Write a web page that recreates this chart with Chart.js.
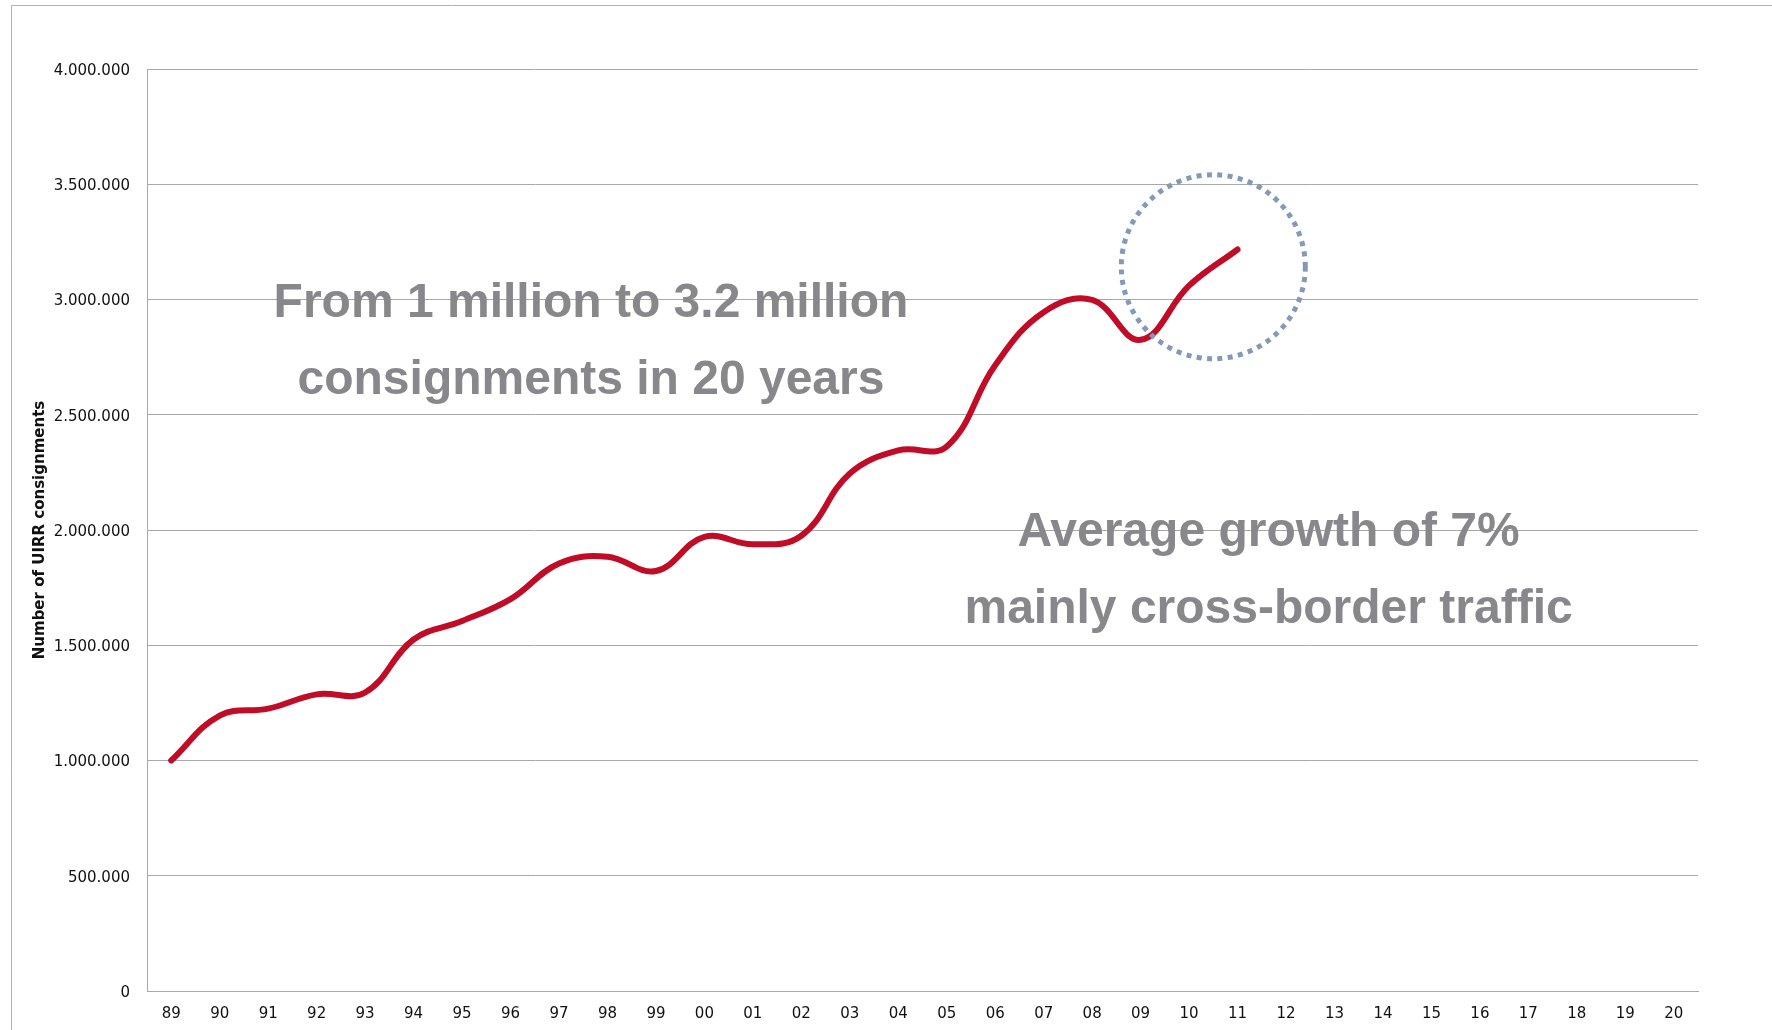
<!DOCTYPE html>
<html>
<head>
<meta charset="utf-8">
<title>UIRR consignments</title>
<script src="https://cdn.jsdelivr.net/npm/chart.js@4.4.1/dist/chart.umd.min.js"></script>
<style>
  html, body { margin: 0; padding: 0; background: #fff; }
</style>
</head>
<body>
<canvas id="consignmentChart" width="1772" height="1030"></canvas>
<script>
// years on the x axis (two-digit)
const years = ['89', '90', '91', '92', '93', '94', '95', '96', '97', '98', '99',
               '00', '01', '02', '03', '04', '05', '06', '07', '08', '09', '10',
               '11', '12', '13', '14', '15', '16', '17', '18', '19', '20'];

// number of UIRR consignments per year, 1989 - 2011
const consignments = [1000000, 1195000, 1225000, 1287000, 1295000, 1525000, 1605000,
                      1700000, 1855000, 1884000, 1822000, 1970000, 1938000, 1975000,
                      2245000, 2345000, 2362000, 2715000, 2945000, 2998000, 2825000,
                      3060000, 3217000];

const yMax = 4000000;
const yStep = 500000;

// callout texts
const noteLeft = ['From 1 million to 3.2 million', 'consignments in 20 years'];
const noteRight = ['Average growth of 7%', 'mainly cross-border traffic'];

function dotted(n) {
    return String(n).replace(/\B(?=(\d{3})+(?!\d))/g, '.');
}

const tickFont = { family: 'DejaVu Sans', size: 15 };
const gridGrey = '#a8a8a8';

// frame lines, the dotted circle and the two callouts
const decorations = {
    id: 'decorations',
    beforeDraw(chart) {
        const ctx = chart.ctx;
        ctx.save();
        ctx.fillStyle = '#fff';
        ctx.fillRect(0, 0, chart.width, chart.height);
        ctx.strokeStyle = '#b0b0b0';
        ctx.lineWidth = 1;
        ctx.beginPath();
        ctx.moveTo(11.5, chart.height);
        ctx.lineTo(11.5, 5.5);
        ctx.lineTo(chart.width, 5.5);
        ctx.stroke();
        ctx.restore();
    },
    afterDraw(chart) {
        const ctx = chart.ctx;
        const x = chart.scales.x;
        const y = chart.scales.y;
        ctx.save();

        // circle around the last two years
        ctx.strokeStyle = '#8399ba';
        ctx.lineWidth = 5;
        ctx.setLineDash([5, 5.4]);
        ctx.beginPath();
        ctx.arc(x.getPixelForValue(21.5), y.getPixelForValue(3142000), 92, 0, Math.PI * 2);
        ctx.stroke();
        ctx.setLineDash([]);

        ctx.fillStyle = '#87878c';
        ctx.font = 'bold 48px "Liberation Sans", Arial, sans-serif';
        ctx.textAlign = 'center';
        ctx.textBaseline = 'middle';
        ctx.fillText(noteLeft[0], x.getPixelForValue(8.66), y.getPixelForValue(2980000));
        ctx.fillText(noteLeft[1], x.getPixelForValue(8.66), y.getPixelForValue(2648000));
        ctx.fillText(noteRight[0], x.getPixelForValue(22.64), y.getPixelForValue(1988000));
        ctx.fillText(noteRight[1], x.getPixelForValue(22.64), y.getPixelForValue(1656000));
        ctx.restore();
    }
};

const ctx = document.getElementById('consignmentChart').getContext('2d');
new Chart(ctx, {
    type: 'line',
    data: {
        labels: years,
        datasets: [{
            data: consignments,
            borderColor: '#c00c26',
            borderWidth: 6,
            borderCapStyle: 'round',
            borderJoinStyle: 'round',
            tension: 0.4,
            pointRadius: 0,
            fill: false
        }]
    },
    options: {
        responsive: false,
        animation: false,
        devicePixelRatio: 1,
        layout: {
            padding: { left: 0, top: 69, right: 74, bottom: 0 }
        },
        plugins: {
            legend: { display: false },
            tooltip: { enabled: false }
        },
        scales: {
            x: {
                offset: true,
                grid: { display: false, drawTicks: false },
                border: { display: true, color: gridGrey, width: 1 },
                ticks: {
                    font: tickFont,
                    color: '#111',
                    padding: 14,
                    autoSkip: false,
                    maxRotation: 0
                },
                afterFit(scale) { scale.height = 39; }
            },
            y: {
                min: 0,
                max: yMax,
                grid: { color: gridGrey, lineWidth: 1, drawTicks: false },
                border: { display: true, color: gridGrey, width: 1 },
                ticks: {
                    stepSize: yStep,
                    font: tickFont,
                    color: '#111',
                    padding: 17,
                    labelOffset: 2,
                    callback: v => dotted(v)
                },
                title: {
                    display: true,
                    text: 'Number of UIRR consignments',
                    font: { family: 'DejaVu Sans', size: 15, weight: 'bold' },
                    color: '#111',
                    padding: { top: 31, bottom: 0 }
                },
                afterFit(scale) { scale.width = 147; }
            }
        }
    },
    plugins: [decorations]
});
</script>
</body>
</html>
